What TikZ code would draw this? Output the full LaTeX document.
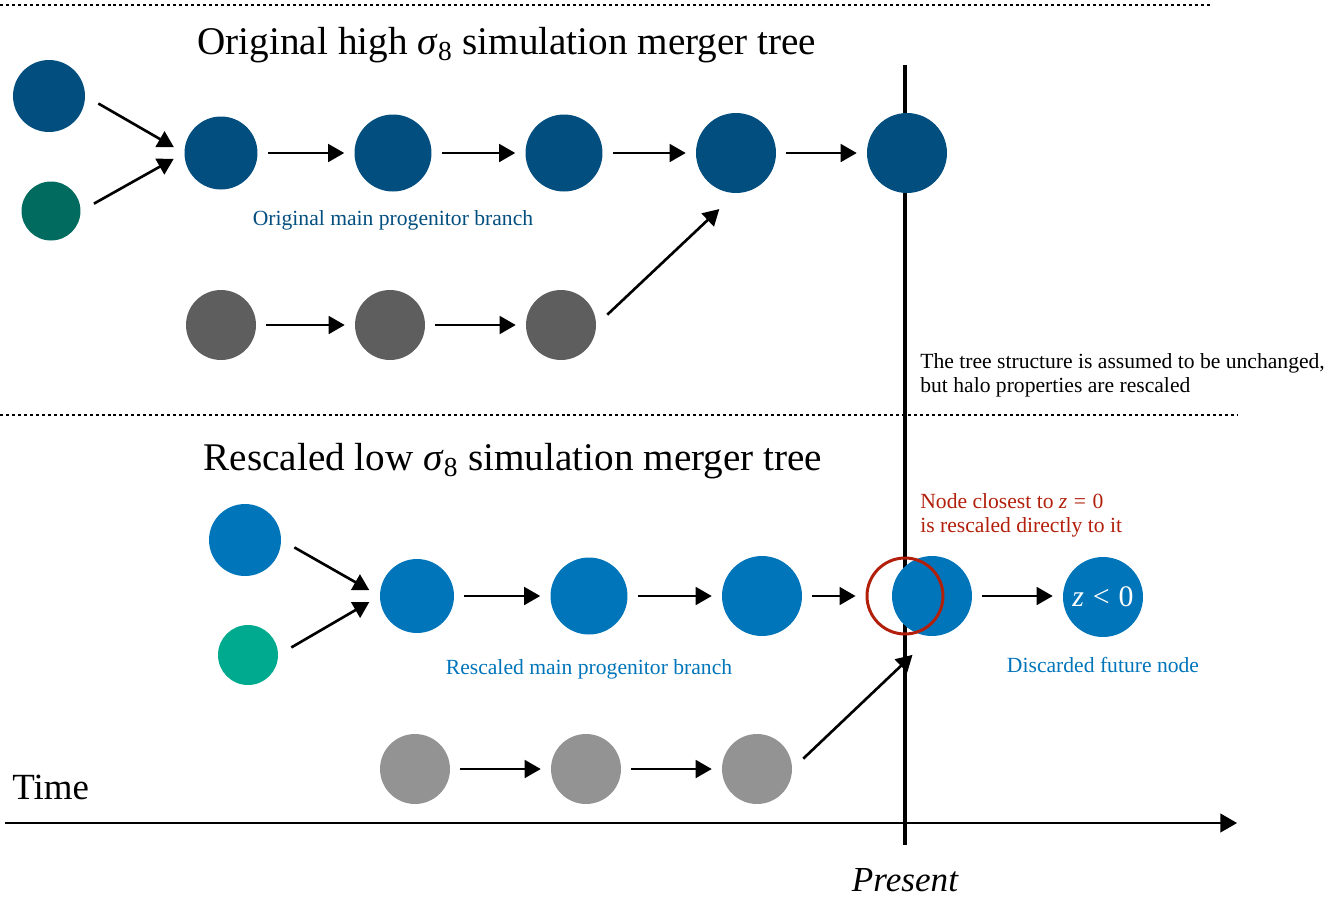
\documentclass[tikz,border=0pt]{standalone}
\usepackage{fontspec}
\setmainfont{Liberation Serif}
\usetikzlibrary{arrows}
\usetikzlibrary{positioning}

\definecolor{origblue}{HTML}{024E7F}
\definecolor{origteal}{HTML}{016B60}
\definecolor{origgrey}{HTML}{5E5E5E}
\definecolor{newblue}{HTML}{0075BA}
\definecolor{newteal}{HTML}{00AA8E}
\definecolor{newgrey}{HTML}{939393}
\definecolor{ringred}{HTML}{B21F0B}

\tikzset{
  halo/.style={circle, inner sep=0pt, minimum size=#1},
  flow/.style={black, line width=1.5pt, ->, >=triangle 60, shorten <=0.2cm, shorten >=0.2cm},
  sepline/.style={black, line width=1.6pt, dash pattern=on 1.7pt off 1.7pt},
  titletext/.style={font=\fontsize{22.3}{26}\selectfont},
  smalltext/.style={font=\fontsize{12.3}{13.6}\selectfont, align=left, inner sep=0pt},
}

\begin{document}
\begin{tikzpicture}[x=0.02cm, y=-0.02cm]
\useasboundingbox (0,0) rectangle (1340,897);

% separators and time axis
\draw[sepline] (0,5) -- (1210,5);
\draw[sepline] (0,415) -- (1237,415);
\draw[black, line width=2.2pt] (905,65) -- (905,845);
\draw[black, line width=1.6pt, ->, >=triangle 60] (5,823) -- (1237,823);
\node[anchor=west, font=\fontsize{21}{24}\selectfont, inner sep=0pt] (time) at (12,787) {Time};
\node[font=\fontsize{20}{24}\selectfont\itshape, inner sep=0pt] (present) at (905,880) {Present};

% original tree
\node[titletext] (toptitle) at (507,45) {Original high \textit{σ}\textsubscript{8} simulation merger tree};
\node[halo=1.44cm, fill=origblue] (a1) at (49,96) {};
\node[halo=1.18cm, fill=origteal] (a2) at (51,211) {};
\node[halo=1.46cm, fill=origblue] (m1) at (221,153) {};
\node[halo=1.54cm, fill=origblue] (m2) at (393,153) {};
\node[halo=1.54cm, fill=origblue] (m3) at (564,153) {};
\node[halo=1.6cm, fill=origblue] (m4) at (736,153) {};
\node[halo=1.6cm, fill=origblue] (m5) at (907,153) {};
\node[halo=1.4cm, fill=origgrey] (g1) at (221,325) {};
\node[halo=1.4cm, fill=origgrey] (g2) at (390,325) {};
\node[halo=1.4cm, fill=origgrey] (g3) at (561,325) {};
\node[smalltext, text=origblue, below=0.36cm of m2] (origbranch) {Original main progenitor branch};
\node[smalltext, anchor=west] (unchanged) at (920,375) {The tree structure is assumed to be unchanged,\\but halo properties are rescaled};

\draw[flow, shorten <=0.3cm, shorten >=0.24cm] (a1.east) -- (m1.west);
\draw[flow, shorten <=0.3cm, shorten >=0.24cm] (a2.east) -- (m1.west);
\foreach \a/\b in {m1/m2, m2/m3, m3/m4, m4/m5, g1/g2, g2/g3}
  \draw[flow] (\a) -- (\b);
\draw[flow, shorten <=0.3cm, shorten >=0.46cm] (g3.east) -- (m4.south);

% rescaled tree
\node[titletext] (bottomtitle) at (513,461) {Rescaled low \textit{σ}\textsubscript{8} simulation merger tree};
\node[halo=1.44cm, fill=newblue] (b1) at (245,540) {};
\node[halo=1.2cm, fill=newteal] (b2) at (248,655) {};
\node[halo=1.48cm, fill=newblue] (r1) at (417,596) {};
\node[halo=1.54cm, fill=newblue] (r2) at (589,596) {};
\node[halo=1.6cm, fill=newblue] (r3) at (762,596) {};
\node[halo=1.6cm, fill=newblue] (r4) at (932,596) {};
\node[halo=1.6cm, fill=newblue, text=white, font=\fontsize{17}{20}\selectfont] (future) at (1103,597) {\textit{z}\hspace{0.3em}<\hspace{0.3em}0};
\node[halo=1.52cm, draw=ringred, line width=1.7pt] (ring) at (905,596) {};
\node[halo=1.4cm, fill=newgrey] (h1) at (415,769) {};
\node[halo=1.4cm, fill=newgrey] (h2) at (586,769) {};
\node[halo=1.4cm, fill=newgrey] (h3) at (757,769) {};
\node[smalltext, text=newblue, below=0.48cm of r2] (newbranch) {Rescaled main progenitor branch};
\node[smalltext, text=newblue, below=0.4cm of future] (discarded) {Discarded future node};
\node[smalltext, text=ringred, anchor=west] (closest) at (920,515) {Node closest to \textit{z}\hspace{0.3em}=\hspace{0.3em}0\\is rescaled directly to it};

\draw[flow, shorten <=0.3cm, shorten >=0.24cm] (b1.east) -- (r1.west);
\draw[flow, shorten <=0.3cm, shorten >=0.24cm] (b2.east) -- (r1.west);
\foreach \a/\b in {r1/r2, r2/r3, r3/ring, h1/h2, h2/h3}
  \draw[flow] (\a) -- (\b);
\draw[flow] (r4.east) -- (r4.east -| future.west);
\draw[flow, shorten <=0.3cm, shorten >=0.54cm] (h3.east) -- (r4.south);
\end{tikzpicture}
\end{document}
